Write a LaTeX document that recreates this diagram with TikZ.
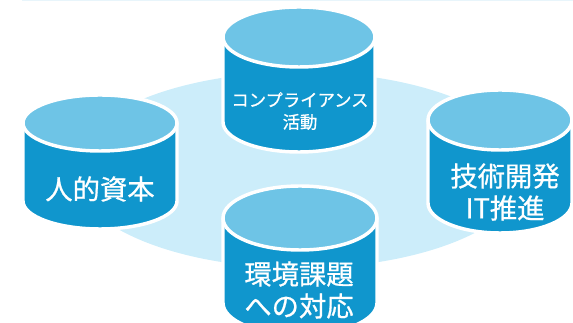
\documentclass[tikz,border=0pt]{standalone}
\usepackage{fontspec}
\setmainfont{Noto Sans CJK JP}[FakeBold=0.7]

\definecolor{canside}{RGB}{16,150,205}
\definecolor{cantop}{RGB}{110,196,230}
\definecolor{ringfill}{RGB}{204,237,250}
\definecolor{edgeline}{RGB}{232,245,251}

\tikzset{every picture/.style={line width=0.75pt}}
\tikzset{
  canbody/.style={draw=white, line width=2.6pt, fill=canside, line join=round},
  canlid/.style={draw=white, line width=2.6pt, fill=cantop},
  bigtxt/.style={text=white, align=center, font=\fontsize{20.5}{24}\selectfont},
  smalltxt/.style={text=white, align=center, font=\fontsize{13}{16.5}\selectfont}
}

\begin{document}
\begin{tikzpicture}[x=0.75pt,y=0.75pt,yscale=-1,xscale=1]
		\useasboundingbox (0,0) rectangle (573,323);
		\clip (0,0) rectangle (573,323);
		
		%Straight Lines
		\draw [color=edgeline]   (22,0.5) -- (573,0.5) ;
		%Shape: Ellipse
		\draw [fill=ringfill, draw=none]   (300,170) ellipse (228 and 98) ;
		
		%Shape: Can
		\draw [canbody]   (223,37) -- (223,122) arc[start angle=180, end angle=0, x radius=76, y radius=30] -- (375,37) -- cycle ;
		\draw [canlid]   (299,37) ellipse (76 and 30) ;
		%Shape: Can
		\draw [canbody]   (23,123) -- (23,201) arc[start angle=180, end angle=0, x radius=77, y radius=28] -- (177,123) -- cycle ;
		\draw [canlid]   (100,123) ellipse (77 and 28) ;
		%Shape: Can
		\draw [canbody]   (428,120) -- (428,203) arc[start angle=180, end angle=0, x radius=72, y radius=30] -- (572,120) -- cycle ;
		\draw [canlid]   (500,120) ellipse (72 and 30) ;
		%Shape: Can
		\draw [canbody]   (223,218) -- (223,303) arc[start angle=180, end angle=0, x radius=77, y radius=32] -- (377,218) -- cycle ;
		\draw [canlid]   (300,218) ellipse (77 and 32) ;
		
		% Text Node
		\draw (300,111) node (compliance) [smalltxt] {コンプライアンス\\活動};
		% Text Node
		\draw (100,189) node (jinteki) [bigtxt] {人的資本};
		% Text Node
		\draw (505,192) node (gijutsu) [bigtxt] {技術開発\\IT推進};
		% Text Node
		\draw (299,290) node (kankyo) [bigtxt] {環境課題\\への対応};
		
\end{tikzpicture}
\end{document}
